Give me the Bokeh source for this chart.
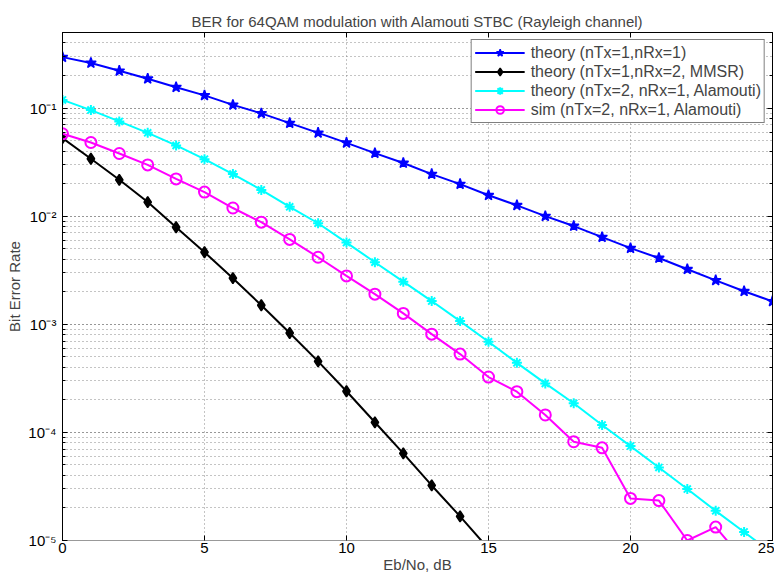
from bokeh.plotting import figure
from bokeh.models import (Range1d, CustomJSTickFormatter, FixedTicker, Legend, LegendItem,
                          LogAxis, LinearAxis, LogTicker)
from bokeh.embed import file_html
from bokeh.resources import INLINE

ebno_db = list(range(0, 26))

ber_theory_1x1 = [0.296, 0.261, 0.221, 0.187, 0.156, 0.131, 0.107, 0.0893, 0.0726, 0.059,
                  0.0477, 0.0383, 0.031, 0.0245, 0.0198, 0.0156, 0.0126, 0.0100, 0.0081,
                  0.0064, 0.00506, 0.0041, 0.00323, 0.00255, 0.00202, 0.00163]

ebno_mrc = list(range(0, 16))
ber_theory_1x2_mrc = [0.0528, 0.034, 0.0217, 0.0135, 0.0079, 0.00464, 0.00267, 0.0015,
                      0.00083, 0.000454, 0.00024, 0.000124, 6.4e-5, 3.23e-5, 1.67e-5, 8.4e-6]

ber_theory_alamouti = [0.119, 0.0958, 0.0753, 0.059, 0.0451, 0.0337, 0.0245, 0.0175, 0.0122,
                       0.0086, 0.0057, 0.00375, 0.00248, 0.00164, 0.00107, 0.00069, 0.00044,
                       0.000284, 0.000186, 0.000117, 7.47e-5, 4.74e-5, 2.99e-5, 1.88e-5,
                       1.2e-5, 7.6e-6]

ebno_sim = list(range(0, 25))
ber_sim_alamouti = [0.0578, 0.048, 0.038, 0.0298, 0.0221, 0.0167, 0.0119, 0.0088, 0.0061,
                    0.00417, 0.0028, 0.0019, 0.00126, 0.00081, 0.00053, 0.000325, 0.000238,
                    0.000145, 8.2e-5, 7.2e-5, 2.45e-5, 2.34e-5, 1.0e-5, 1.33e-5, 6.5e-6]

x_ticks = [0, 5, 10, 15, 20, 25]

FONT = "Liberation Sans"

p = figure(width=774, height=578, y_axis_type="log",
           x_range=Range1d(0, 25), y_range=Range1d(1e-5, 0.5),
           output_backend="svg", toolbar_location=None,
           min_border_left=62, min_border_right=2, min_border_top=32, min_border_bottom=38,
           title="BER for 64QAM modulation with Alamouti STBC (Rayleigh channel)")

p.title.align = "center"
p.title.text_font = FONT
p.title.text_font_size = "15px"
p.title.text_font_style = "normal"
p.title.offset = 0
p.title.standoff = 6

p.outline_line_color = "black"
p.outline_line_width = 1

p.xaxis.ticker = FixedTicker(ticks=x_ticks)
p.yaxis.ticker.desired_num_ticks = 5
p.yaxis.formatter = CustomJSTickFormatter(code="""
const sup = {'-':'\u207b','0':'\u2070','1':'\u00b9','2':'\u00b2','3':'\u00b3','4':'\u2074','5':'\u2075','6':'\u2076','7':'\u2077','8':'\u2078','9':'\u2079'};
const e = Math.round(Math.log10(tick));
return '10' + String(e).split('').map(c => sup[c]).join('');
""")

for ax in (p.xaxis, p.yaxis):
    ax.major_label_text_font = FONT
    ax.major_label_text_font_size = "15px"
    ax.axis_label_text_font = FONT
    ax.axis_label_text_font_size = "15px"
    ax.axis_label_text_font_style = "normal"
    ax.major_tick_in = 5
    ax.major_tick_out = 0
    ax.minor_tick_in = 3
    ax.minor_tick_out = 0
    ax.axis_line_color = "black"
    ax.major_tick_line_color = "black"
    ax.minor_tick_line_color = "black"
    ax.major_label_text_color = "black"

p.xaxis.axis_label = "Eb/No, dB"
p.yaxis.axis_label = "Bit Error Rate"
p.xaxis.minor_tick_line_color = None
p.xaxis.axis_line_color = "#999999"
p.xaxis.major_label_standoff = 2
p.xaxis.axis_label_standoff = 0
p.yaxis.major_label_standoff = 6
p.yaxis.axis_label_standoff = 2

# box ticks on the right and top (no labels)
blank = CustomJSTickFormatter(code="return '';")
right_ax = LogAxis(ticker=LogTicker(desired_num_ticks=5), formatter=blank,
                   major_tick_in=5, major_tick_out=0, minor_tick_in=3, minor_tick_out=0,
                   major_label_standoff=0, major_label_text_font_size="1px",
                   axis_line_color="black")
top_ax = LinearAxis(ticker=FixedTicker(ticks=x_ticks), formatter=blank,
                    major_tick_in=5, major_tick_out=0, minor_tick_line_color=None,
                    major_label_standoff=0, major_label_text_font_size="1px",
                    axis_line_color="black")
p.add_layout(right_ax, "right")
p.add_layout(top_ax, "above")

p.xgrid.grid_line_color = "#888888"
p.xgrid.grid_line_dash = "1 3"
p.ygrid.grid_line_color = "#888888"
p.ygrid.grid_line_dash = "1 3"
p.ygrid.minor_grid_line_color = "#888888"
p.ygrid.minor_grid_line_dash = "1 3"

r1l = p.line(ebno_db, ber_theory_1x1, line_color="blue", line_width=2)
r1m = p.scatter(ebno_db, ber_theory_1x1, marker="star", size=11, fill_color="blue",
                line_color="blue", line_width=1.5)

r2l = p.line(ebno_mrc, ber_theory_1x2_mrc, line_color="black", line_width=2)
r2m = p.scatter(ebno_mrc, ber_theory_1x2_mrc, marker="diamond", size=11, fill_color="black",
                line_color="black", line_width=1.5)

r3l = p.line(ebno_db, ber_theory_alamouti, line_color="cyan", line_width=2)
r3m = p.scatter(ebno_db, ber_theory_alamouti, marker="asterisk", size=10,
                line_color="cyan", line_width=2)

r4l = p.line(ebno_sim, ber_sim_alamouti, line_color="magenta", line_width=2)
r4m = p.scatter(ebno_sim, ber_sim_alamouti, marker="circle", size=11, fill_color=None,
                line_color="magenta", line_width=2)

legend = Legend(items=[
    LegendItem(label="theory (nTx=1,nRx=1)", renderers=[r1l, r1m]),
    LegendItem(label="theory (nTx=1,nRx=2, MMSR)", renderers=[r2l, r2m]),
    LegendItem(label="theory (nTx=2, nRx=1, Alamouti)", renderers=[r3l, r3m]),
    LegendItem(label="sim (nTx=2, nRx=1, Alamouti)", renderers=[r4l, r4m]),
], location="top_right")
legend.margin = 7
legend.padding = 3
legend.spacing = 0
legend.glyph_width = 50
legend.glyph_height = 19
legend.label_height = 19
legend.label_standoff = 6
legend.label_text_font = FONT
legend.label_text_font_size = "16px"
legend.border_line_color = "black"
legend.border_line_width = 1
legend.background_fill_alpha = 1
p.add_layout(legend)

open("out.html", "w").write(file_html(p, INLINE))
